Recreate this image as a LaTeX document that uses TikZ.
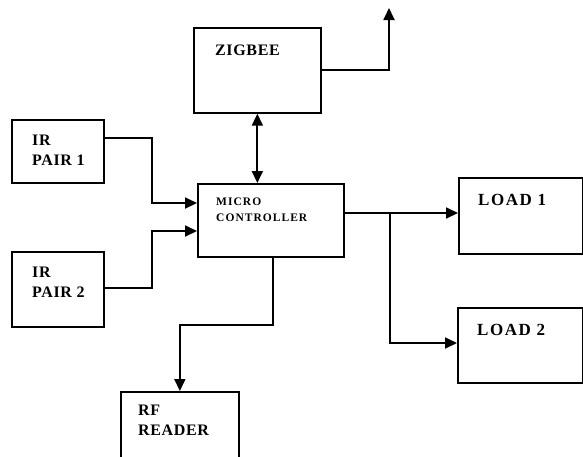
\documentclass[tikz,border=0pt]{standalone}
\usepackage{fontspec}
\setmainfont{Liberation Serif}
\usetikzlibrary{arrows.meta}
\begin{document}
\begin{tikzpicture}[x=1pt,y=-1pt,
  box/.style={draw,line width=1.7pt,rectangle,inner sep=0pt,anchor=north west},
  wire/.style={line width=1.8pt},
  arr/.style={wire,-{Triangle[length=12pt,width=11pt]}},
  darr/.style={wire,{Triangle[length=12pt,width=11pt]}-{Triangle[length=12pt,width=11pt]}},
  lbl/.style={anchor=base west,inner sep=0pt,font=\fontsize{16}{18}\selectfont\bfseries\addfontfeature{LetterSpace=4}},
  lblL/.style={anchor=base west,inner sep=0pt,font=\fontsize{17}{18}\selectfont\bfseries\addfontfeature{LetterSpace=9}},
  lblS/.style={anchor=base west,inner sep=0pt,font=\fontsize{11.5}{12}\selectfont\bfseries\addfontfeature{LetterSpace=9}}]
\useasboundingbox (0,0) rectangle (583,456);
\clip (0,0) rectangle (583,456);
% boxes
\node[box,minimum width=127pt,minimum height=85pt] (zig) at (193,27) {};
\node[box,minimum width=92pt,minimum height=63pt] (ir1) at (11,119) {};
\node[box,minimum width=92pt,minimum height=75pt] (ir2) at (11,251) {};
\node[box,minimum width=146pt,minimum height=73pt] (mc) at (197,183) {};
\node[box,minimum width=124pt,minimum height=76pt] (load1) at (458,177) {};
\node[box,minimum width=125pt,minimum height=75pt] (load2) at (457,307) {};
\node[box,minimum width=118pt,minimum height=90pt] (rf) at (120,391) {};
% labels
\node[lbl] (tzig) at (215,55) {ZIGBEE};
\node[lbl] (tir1a) at (32,145) {IR};
\node[lbl] (tir1b) at (32,165) {PAIR 1};
\node[lbl] (tir2a) at (32,277) {IR};
\node[lbl] (tir2b) at (32,297) {PAIR 2};
\node[lblS] (tmca) at (216,205) {MICRO};
\node[lblS] (tmcb) at (216,221) {CONTROLLER};
\node[lblL] (tl1) at (478,205) {LOAD 1};
\node[lblL] (tl2) at (477,335) {LOAD 2};
\node[lbl] (trfa) at (138,415) {RF};
\node[lbl] (trfb) at (138,435) {READER};
% connectors
\coordinate (zigout) at (389,8);
\draw[arr] (zig.east) -| (zigout);
\draw[darr] (zig.south) -- (zig.south |- mc.north);
\draw[arr] ([yshift=-19pt]ir1.north east) -- ++(47,0) |- ([yshift=-20pt]mc.north west);
\draw[arr] ([yshift=-37pt]ir2.north east) -- ++(47,0) |- ([yshift=-48pt]mc.north west);
\coordinate (mcR) at ([yshift=-30pt]mc.north east);
\draw[arr] (mcR) -- (mcR -| load1.west);
\coordinate (br) at ([xshift=45pt]mcR);
\draw[arr] (br) |- ([yshift=-36pt]load2.north west);
\draw[arr] ([xshift=76pt]mc.south west) -- ++(0,67) -| (rf.north);
\end{tikzpicture}
\end{document}
